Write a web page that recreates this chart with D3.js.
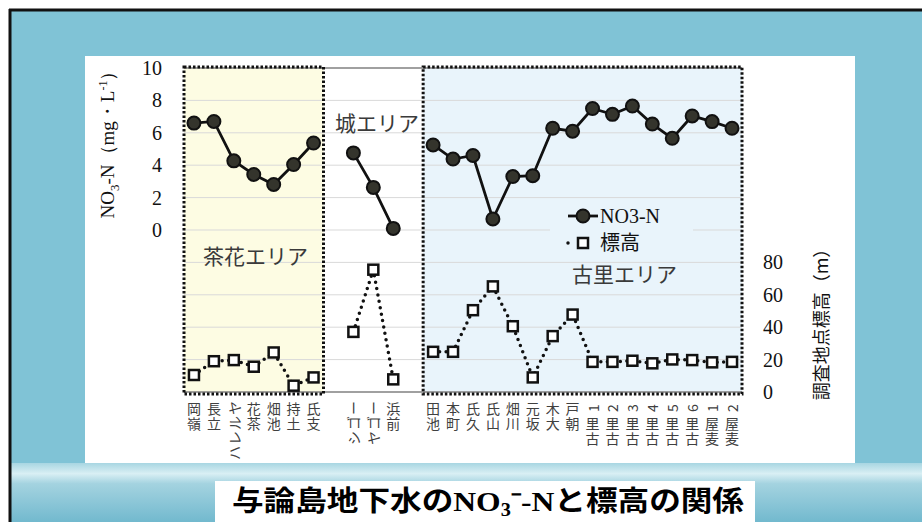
<!DOCTYPE html>
<html>
<head>
<meta charset="utf-8">
<script src="https://cdn.jsdelivr.net/npm/d3@7"></script>
<style>
  body { margin: 0; background: #fff; }
  svg { display: block; }
</style>
</head>
<body>
<div id="chart"></div>
<script>
// sites along the x axis ("" = gap between areas)
var sites = ["嶺岡", "立長", "ハレルヤ", "茶花", "池畑", "土持", "支氏", "",
  "シゴー", "ヤゴー", "前浜", "",
  "池田", "町本", "久氏", "山氏", "川畑", "坂元", "大木", "朝戸",
  "古里1", "古里2", "古里3", "古里4", "古里5", "古里6", "麦屋1", "麦屋2"];

// NO3-N (mg/L)
var no3 = [6.6, 6.7, 4.27, 3.43, 2.81, 4.04, 5.37, null,
  4.76, 2.63, 0.1, null,
  5.25, 4.38, 4.6, 0.68, 3.3, 3.35, 6.28, 6.1,
  7.5, 7.14, 7.65, 6.54, 5.66, 7.04, 6.69, 6.28];

// elevation (m)
var elev = [10.5, 19, 19.7, 15.6, 24.4, 3.9, 9, null,
  37.1, 75.5, 7.8, null,
  24.8, 24.8, 50.5, 65.2, 40.6, 9, 34.5, 47.8,
  18.6, 18.6, 19.3, 17.7, 20.1, 19.7, 18.3, 18.6];

var no3Ticks = [0, 2, 4, 6, 8, 10];
var elevTicks = [0, 20, 40, 60, 80];
var areaNames = ["茶花エリア", "城エリア", "古里エリア"];

var W = 922, H = 522;
var plot = {left: 184, right: 742, top: 68, bottom: 392};

var svg = d3.select("#chart").append("svg")
  .attr("width", W).attr("height", H);

var defs = svg.append("defs");
var g1 = defs.append("linearGradient").attr("id", "band")
  .attr("x1", 0).attr("y1", 0).attr("x2", 0).attr("y2", 1);
g1.append("stop").attr("offset", "0").attr("stop-color", "#a8d6e2");
g1.append("stop").attr("offset", "0.18").attr("stop-color", "#d9eff4");
g1.append("stop").attr("offset", "0.35").attr("stop-color", "#a4d3e0");
g1.append("stop").attr("offset", "1").attr("stop-color", "#72b9ce");

// slide background
svg.append("rect").attr("x", 0).attr("y", 0).attr("width", W).attr("height", H).attr("fill", "#fff");
svg.append("rect").attr("x", 11).attr("y", 11).attr("width", W - 11).attr("height", H - 11).attr("fill", "#80c3d6");
svg.append("rect").attr("x", 11).attr("y", 463).attr("width", W - 11).attr("height", H - 463).attr("fill", "url(#band)");
svg.append("line").attr("x1", 9).attr("x2", W).attr("y1", 10).attr("y2", 10).attr("stroke", "#111").attr("stroke-width", 3);
svg.append("line").attr("x1", 10).attr("x2", 10).attr("y1", 9).attr("y2", H).attr("stroke", "#111").attr("stroke-width", 3);

// chart panel
svg.append("rect").attr("x", 85).attr("y", 56).attr("width", 770).attr("height", 407).attr("fill", "#fff");

// scales
var x = d3.scaleBand().domain(d3.range(sites.length)).range([plot.left, plot.right]);
var bw = x.bandwidth();
var cx = function(i) { return x(i) + bw / 2; };
var yL = d3.scaleLinear().domain([-10, 10]).range([plot.bottom, plot.top]);
var yR = d3.scaleLinear().domain([0, 200]).range([plot.bottom, plot.top]);

// area backgrounds
var chabanaX0 = x(0), chabanaX1 = x(6) + bw;
var furusatoX0 = x(12), furusatoX1 = x(27) + bw;
svg.append("rect").attr("x", chabanaX0).attr("y", plot.top).attr("width", chabanaX1 - chabanaX0)
  .attr("height", plot.bottom - plot.top).attr("fill", "#fdfce3");
svg.append("rect").attr("x", furusatoX0).attr("y", plot.top).attr("width", furusatoX1 - furusatoX0)
  .attr("height", plot.bottom - plot.top).attr("fill", "#e9f4fb");

// gridlines
svg.append("g").selectAll("line")
  .data(d3.range(-10, 11, 2))
  .enter().append("line")
    .attr("x1", plot.left).attr("x2", plot.right)
    .attr("y1", function(d) { return yL(d); })
    .attr("y2", function(d) { return yL(d); })
    .attr("stroke", "#d9d9d9").attr("stroke-width", 1);

svg.append("line").attr("x1", plot.left).attr("x2", plot.right)
  .attr("y1", plot.top).attr("y2", plot.top).attr("stroke", "#555").attr("stroke-width", 1);
svg.append("line").attr("x1", plot.left).attr("x2", plot.right)
  .attr("y1", plot.bottom).attr("y2", plot.bottom).attr("stroke", "#555").attr("stroke-width", 1);

// dotted area boxes
[[chabanaX0, chabanaX1], [furusatoX0, furusatoX1]].forEach(function(b) {
  svg.append("rect")
    .attr("x", b[0]).attr("y", plot.top - 1)
    .attr("width", b[1] - b[0]).attr("height", plot.bottom - plot.top + 3)
    .attr("fill", "none").attr("stroke", "#111").attr("stroke-width", 3)
    .attr("stroke-dasharray", "2.5,2");
});

// area labels
var jp = "'Noto Sans CJK JP', sans-serif";
var serif = "'Liberation Serif', 'Times New Roman', serif";
svg.append("text").attr("x", 203).attr("y", 264).text(areaNames[0])
  .attr("font-family", jp).attr("font-size", 21).attr("fill", "#3a3a3a");
svg.append("text").attr("x", 335).attr("y", 131).text(areaNames[1])
  .attr("font-family", jp).attr("font-size", 21).attr("fill", "#3a3a3a");
svg.append("text").attr("x", 572).attr("y", 282).text(areaNames[2])
  .attr("font-family", jp).attr("font-size", 21).attr("fill", "#3a3a3a");

// axes
var axL = svg.append("g").attr("transform", "translate(" + plot.left + ",0)")
  .call(d3.axisLeft(yL).tickValues(no3Ticks).tickSize(0).tickPadding(22));
var axR = svg.append("g").attr("transform", "translate(" + plot.right + ",0)")
  .call(d3.axisRight(yR).tickValues(elevTicks).tickSize(0).tickPadding(21));
[axL, axR].forEach(function(a) {
  a.select(".domain").remove();
  a.selectAll("text").attr("font-family", serif).attr("font-size", 20).attr("fill", "#111");
});

// axis titles
var tl = svg.append("text")
  .attr("transform", "translate(114,140) rotate(-90)")
  .attr("text-anchor", "middle")
  .attr("font-family", serif).attr("font-size", 19).attr("fill", "#111");
tl.append("tspan").text("NO");
tl.append("tspan").text("3").attr("font-size", 13).attr("dy", 5);
tl.append("tspan").text("-N（mg・L").attr("dy", -5);
tl.append("tspan").text("-1").attr("font-size", 12).attr("dy", -7);
tl.append("tspan").text("）").attr("dy", 7);

svg.append("text")
  .attr("transform", "translate(828,320) rotate(-90)")
  .attr("text-anchor", "middle")
  .attr("font-family", jp).attr("font-size", 18).attr("fill", "#111")
  .text("調査地点標高（m）");

// x labels, one glyph at a time (kanji upright, kana/digits turned)
var xl = svg.append("g").attr("font-family", jp).attr("font-size", 14).attr("fill", "#404040");
sites.forEach(function(s, i) {
  var chars = Array.from(s).reverse();
  chars.forEach(function(c, k) {
    var yy = 408 + k * 15;
    var upright = /[\u4e00-\u9fff]/.test(c);
    xl.append("text")
      .attr("text-anchor", "middle")
      .attr("dominant-baseline", "central")
      .attr("transform", "translate(" + cx(i) + "," + yy + ")" + (upright ? "" : " rotate(-90)"))
      .text(c);
  });
});

// series lines
var lineNo3 = d3.line()
  .defined(function(d) { return d != null; })
  .x(function(d, i) { return cx(i); })
  .y(function(d) { return yL(d); });
var lineElev = d3.line()
  .defined(function(d) { return d != null; })
  .x(function(d, i) { return cx(i); })
  .y(function(d) { return yR(d); });

svg.append("path").datum(elev).attr("d", lineElev)
  .attr("fill", "none").attr("stroke", "#111").attr("stroke-width", 3.5)
  .attr("stroke-linecap", "round").attr("stroke-dasharray", "0,6.5");

svg.append("path").datum(no3).attr("d", lineNo3)
  .attr("fill", "none").attr("stroke", "#111").attr("stroke-width", 2.8);

var pts = d3.range(sites.length).filter(function(i) { return no3[i] != null; });

svg.append("g").selectAll("rect")
  .data(pts).enter().append("rect")
    .attr("x", function(i) { return cx(i) - 5; })
    .attr("y", function(i) { return yR(elev[i]) - 5; })
    .attr("width", 10).attr("height", 10)
    .attr("fill", "#fff").attr("stroke", "#111").attr("stroke-width", 2.5);

svg.append("g").selectAll("circle")
  .data(pts).enter().append("circle")
    .attr("cx", function(i) { return cx(i); })
    .attr("cy", function(i) { return yL(no3[i]); })
    .attr("r", 6.5)
    .attr("fill", "#34342c").attr("stroke", "#111").attr("stroke-width", 2);

// legend
svg.append("rect").attr("x", 550).attr("y", 200).attr("width", 143).attr("height", 55).attr("fill", "#e9f4fb");
svg.append("line").attr("x1", 568).attr("x2", 598).attr("y1", 216).attr("y2", 216)
  .attr("stroke", "#111").attr("stroke-width", 2.8);
svg.append("circle").attr("cx", 583).attr("cy", 216).attr("r", 6.5)
  .attr("fill", "#34342c").attr("stroke", "#111").attr("stroke-width", 2);
svg.append("text").attr("x", 600).attr("y", 223).text("NO3-N")
  .attr("font-family", serif).attr("font-size", 20).attr("fill", "#111");
svg.append("line").attr("x1", 568).attr("x2", 598).attr("y1", 243).attr("y2", 243)
  .attr("stroke", "#111").attr("stroke-width", 3.5)
  .attr("stroke-linecap", "round").attr("stroke-dasharray", "0,30");
svg.append("rect").attr("x", 578).attr("y", 238).attr("width", 10).attr("height", 10)
  .attr("fill", "#fff").attr("stroke", "#111").attr("stroke-width", 2.5);
svg.append("text").attr("x", 600).attr("y", 250).text("標高")
  .attr("font-family", jp).attr("font-size", 20).attr("fill", "#111");

// title box
svg.append("rect").attr("x", 215).attr("y", 481).attr("width", 540).attr("height", 41).attr("fill", "#fff");
var tt = svg.append("text").attr("x", 232).attr("y", 511)
  .attr("font-family", jp).attr("font-weight", 700).attr("font-size", 28).attr("fill", "#000")
  .attr("textLength", 512).attr("lengthAdjust", "spacingAndGlyphs");
tt.append("tspan").text("与論島地下水の");
tt.append("tspan").text("NO").attr("font-family", serif);
tt.append("tspan").text("3").attr("font-family", serif).attr("font-size", 18).attr("dy", 5);
tt.append("tspan").text("⁻").attr("dy", -5);
tt.append("tspan").text("-N").attr("font-family", serif);
tt.append("tspan").text("と標高の関係");
</script>
</body>
</html>
